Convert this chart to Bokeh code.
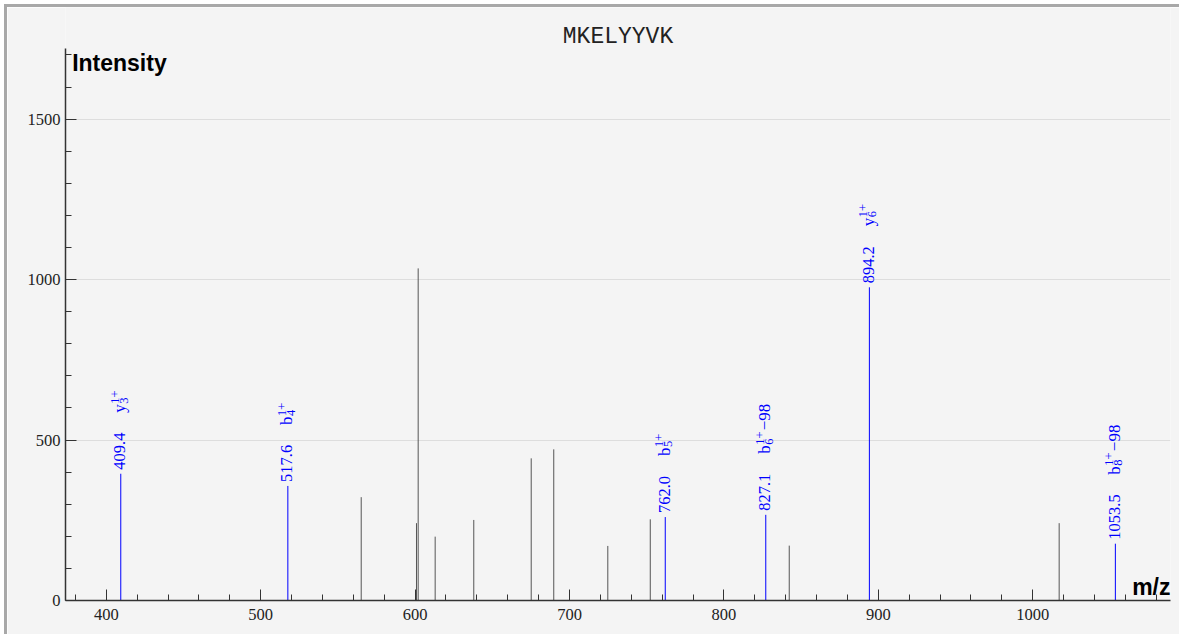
import math
from bokeh.plotting import figure
from bokeh.models import Range1d, SingleIntervalTicker
from bokeh.core.properties import value
from bokeh.embed import file_html
from bokeh.resources import INLINE

# ---------------- data ----------------
title_text = "MKELYYVK"
peak_mz = [565.1, 600.9, 602.0, 613.0, 638.0, 675.2, 689.8, 724.8, 752.3, 842.3, 1017.1]
peak_int = [322, 241, 1035, 199, 251, 443, 471, 170, 253, 171, 241]

ann_mz = [409.4, 517.6, 762.0, 827.1, 894.2, 1053.5]
ann_int = [395, 357, 260, 267, 976, 177]
ann_value = ["409.4", "517.6", "762.0", "827.1", "894.2", "1053.5"]
ann_ion = ["y", "b", "b", "b", "y", "b"]
ann_index = ["3", "4", "5", "6", "6", "8"]
ann_charge = ["1+", "1+", "1+", "1+", "1+", "1+"]
ann_suffix = ["", "", "", "\u221298", "", "\u221298"]

# ---------------- layout ----------------
X0, X1 = 373.6, 1089.2
FW, FH = 1105, 593
Y0, Y1 = 0, 1848.0
AXIS_TOP = 1720
ML, MR, MT, MB = 58, 12, 0, 37

p = figure(width=ML + FW + MR, height=MT + FH + MB,
           min_border_left=ML, min_border_right=MR, min_border_top=MT, min_border_bottom=MB,
           x_range=Range1d(X0, X1), y_range=Range1d(Y0, Y1),
           output_backend="svg", toolbar_location=None)
p.styles = {"border-top": "3px solid #a8a8a8", "border-left": "3px solid #a8a8a8",
            "margin-top": "4px", "margin-left": "4px"}
p.background_fill_color = "#f4f4f4"
p.border_fill_color = "#f4f4f4"
p.outline_line_color = None

sx = FW / (X1 - X0)
sy = FH / (Y1 - Y0)

for ax in (p.xaxis[0], p.yaxis[0]):
    ax.axis_line_color = "#333333"
    ax.axis_line_width = 1.5
    ax.major_tick_line_color = "#333333"
    ax.minor_tick_line_color = "#333333"
    ax.major_tick_in = 11
    ax.major_tick_out = 0
    ax.minor_tick_in = 6
    ax.minor_tick_out = 0
    ax.major_label_text_font = "Liberation Serif"
    ax.major_label_text_font_size = "16.5px"
    ax.major_label_text_color = "#222222"

p.xaxis[0].ticker = SingleIntervalTicker(interval=100, num_minor_ticks=5)
p.yaxis[0].ticker = SingleIntervalTicker(interval=500, num_minor_ticks=5)
p.yaxis[0].bounds = (0, AXIS_TOP)
p.xaxis[0].major_label_standoff = 8
p.yaxis[0].major_label_standoff = 5

p.xgrid.visible = False
p.ygrid[0].ticker = SingleIntervalTicker(interval=500)
p.ygrid[0].grid_line_color = "#dddddd"
p.ygrid[0].grid_line_width = 1
p.ygrid[0].bounds = (1, AXIS_TOP)

# unannotated peaks
p.segment(x0=peak_mz, y0=[0] * len(peak_mz), x1=peak_mz, y1=peak_int,
          line_color="#555555", line_width=1)
# annotated peaks
p.segment(x0=ann_mz, y0=[0] * len(ann_mz), x1=ann_mz, y1=ann_int,
          line_color="#0000ff", line_width=1)

BLUE = "#0000ff"
FONT = value("Liberation Serif")
ang = math.pi / 2


def text_width(s, size):
    w = 0
    for ch in s:
        if ch == ".":
            w += 0.25 * size
        else:
            w += 0.5 * size
    return w


vx, vy, bx, by, spx, spy, sbx, sby, sfx, sfy = ([] for _ in range(10))
for mz, h, v, suf in zip(ann_mz, ann_int, ann_value, ann_suffix):
    vx.append(mz - 1 / sx)
    vy.append(h + 4 / sy)
    start = 4 + text_width(v, 16) + 21
    bx.append(mz - 1 / sx)
    by.append(h + start / sy)
    spx.append(mz - 6 / sx)
    spy.append(h + (start + 9) / sy)
    sbx.append(mz + 3 / sx)
    sby.append(h + (start + 9) / sy)
    sfx.append(mz - 1 / sx)
    sfy.append(h + (start + 9 + 14.5) / sy)

common = dict(angle=ang, text_align="left", text_baseline="middle",
              text_color=BLUE, text_font=FONT)
p.text(x=vx, y=vy, text=ann_value, text_font_size="16.5px", **common)
p.text(x=bx, y=by, text=ann_ion, text_font_size="17px", **common)
p.text(x=spx, y=spy, text=ann_charge, text_font_size="12.5px", **common)
p.text(x=sbx, y=sby, text=ann_index, text_font_size="12.5px", **common)
p.text(x=sfx, y=sfy, text=ann_suffix, text_font_size="17px", **common)

# title and axis captions
p.text(x=[(X0 + X1) / 2], y=[1757], text=[title_text], text_font=value("Liberation Mono"),
       text_font_size="23px", text_align="center", text_baseline="middle", text_color="#222222")
p.text(x=[X0 + 4.3], y=[1676], text=["Intensity"], text_font=value("Liberation Sans"),
       text_font_size="23px", text_font_style="bold", text_align="left",
       text_baseline="alphabetic", text_color="#000000")
p.text(x=[X1], y=[40.6], text=["m/z"], text_font=value("Liberation Sans"),
       text_font_size="23px", text_font_style="bold", text_align="right",
       text_baseline="alphabetic", text_color="#000000")

open("out.html", "w").write(file_html(p, INLINE))
